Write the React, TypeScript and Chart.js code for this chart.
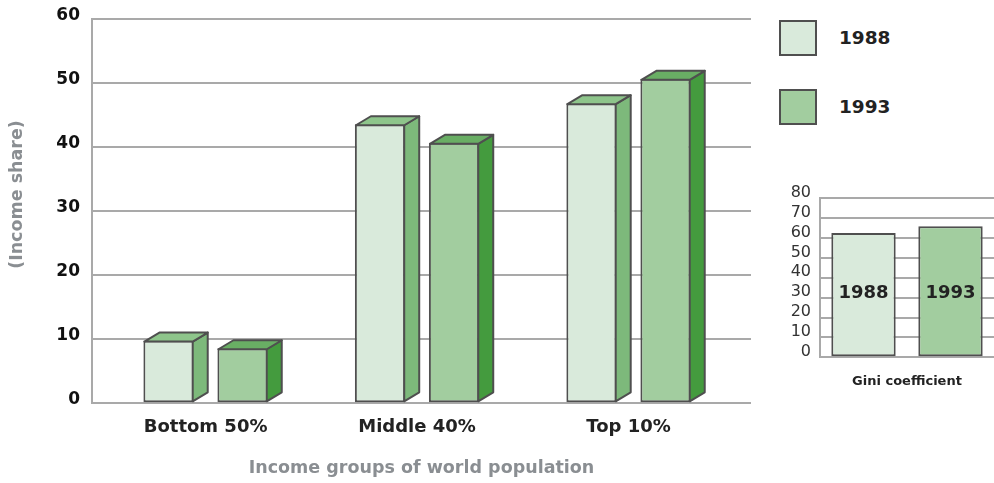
import React, { useEffect, useRef } from "react";
import { Chart, registerables } from "chart.js";

Chart.register(...registerables);

// ---- data ----
const categories = ["Bottom 50%", "Middle 40%", "Top 10%"];
const years = ["1988", "1993"];
const share1988 = [9.8, 43.6, 46.9];
const share1993 = [8.6, 40.7, 50.7];
const shareTicks = [0, 10, 20, 30, 40, 50, 60];
const giniYears = ["1988", "1993"];
const giniValues = [62.5, 66];
const giniTicks = [0, 10, 20, 30, 40, 50, 60, 70, 80];

// ---- style ----
const FONT = "'DejaVu Sans', sans-serif";
const BORDER = "#4f4f4f";
const GRID = "#a9a9a9";
const FRONT = ["#d9eadb", "#a2cd9f"];
const SIDE = ["#7db97b", "#449b3e"];
const TOP = ["#8ec58b", "#69ae64"];
const DX = 15;
const DY = 9;
const GINI_LABEL_AT = 32;

const depthPlugin = {
  id: "depth3d",
  afterDatasetsDraw(chart: any) {
    const ctx = chart.ctx;
    chart.data.datasets.forEach((_ds: any, di: number) => {
      const meta = chart.getDatasetMeta(di);
      meta.data.forEach((bar: any) => {
        const { x, y, base, width } = bar.getProps(["x", "y", "base", "width"], true);
        const l = x - width / 2 + 1;
        const r = x + width / 2 - 1;
        const t = y + 1;
        const b = base - 1;
        ctx.save();
        ctx.lineWidth = 2;
        ctx.lineJoin = "round";
        ctx.strokeStyle = BORDER;
        // side
        ctx.beginPath();
        ctx.moveTo(r, b);
        ctx.lineTo(r + DX, b - DY);
        ctx.lineTo(r + DX, t - DY);
        ctx.lineTo(r, t);
        ctx.closePath();
        ctx.fillStyle = SIDE[di];
        ctx.fill();
        ctx.stroke();
        // top
        ctx.beginPath();
        ctx.moveTo(l, t);
        ctx.lineTo(l + DX, t - DY);
        ctx.lineTo(r + DX, t - DY);
        ctx.lineTo(r, t);
        ctx.closePath();
        ctx.fillStyle = TOP[di];
        ctx.fill();
        ctx.stroke();
        ctx.restore();
      });
    });
  },
};

const yTitlePlugin = {
  id: "yTitle",
  afterDraw(chart: any) {
    const ctx = chart.ctx;
    ctx.save();
    ctx.translate(17, 194.5);
    ctx.rotate(-Math.PI / 2);
    ctx.font = `bold 17.5px ${FONT}`;
    ctx.fillStyle = "#8a8e92";
    ctx.textAlign = "center";
    ctx.textBaseline = "middle";
    ctx.fillText("(Income share)", 0, 0);
    ctx.restore();
  },
};

const giniLabelPlugin = {
  id: "giniLabels",
  afterDatasetsDraw(chart: any) {
    const ctx = chart.ctx;
    const meta = chart.getDatasetMeta(0);
    const yPix = chart.scales.y.getPixelForValue(GINI_LABEL_AT);
    ctx.save();
    ctx.font = `bold 18px ${FONT}`;
    ctx.fillStyle = "#222";
    ctx.textAlign = "center";
    ctx.textBaseline = "middle";
    meta.data.forEach((bar: any, i: number) => {
      ctx.fillText(giniYears[i], bar.x, yPix);
    });
    ctx.restore();
  },
};

function MainChart() {
  const ref = useRef<HTMLCanvasElement>(null);
  useEffect(() => {
    const chart = new Chart(ref.current as HTMLCanvasElement, {
      type: "bar",
      data: {
        datasets: [share1988, share1993].map((vals, di) => ({
          label: years[di],
          data: vals.map((v, i) => ({ x: i, y: v })),
          backgroundColor: FRONT[di],
          borderColor: BORDER,
          borderWidth: 2,
          borderSkipped: false,
          categoryPercentage: 0.7,
          barPercentage: 0.68,
        })),
      },
      options: {
        responsive: false,
        animation: false,
        layout: { padding: { top: 19.3, right: 9, left: 0, bottom: 0 } },
        plugins: { legend: { display: false }, tooltip: { enabled: false } },
        scales: {
          x: {
            type: "linear",
            min: -0.537,
            max: 2.579,
            offset: false,
            grid: { display: false },
            border: { display: false },
            afterBuildTicks: (axis: any) => {
              axis.ticks = categories.map((_c, i) => ({ value: i }));
            },
            afterFit: (s: any) => {
              s.height = 483 - 403.3;
            },
            ticks: {
              callback: (v: any) => categories[v] ?? "",
              font: { family: FONT, size: 18, weight: "bold" },
              color: "#222",
              padding: 5,
              maxRotation: 0,
              autoSkip: false,
            },
            title: {
              display: true,
              text: "Income groups of world population",
              font: { family: FONT, size: 17.5, weight: "bold" },
              color: "#8a8e92",
              padding: { top: 0, bottom: 4 },
            },
          },
          y: {
            min: 0,
            max: 60,
            afterBuildTicks: (axis: any) => {
              axis.ticks = shareTicks.map((v) => ({ value: v }));
            },
            afterFit: (s: any) => {
              s.width = 92;
              s.paddingTop = 0;
              s.paddingBottom = 0;
            },
            grid: { color: GRID, lineWidth: 2, drawTicks: false },
            border: { display: true, color: GRID, width: 2 },
            ticks: {
              font: { family: FONT, size: 17, weight: "bold" },
              color: "#111",
              padding: 12,
              labelOffset: -4,
              autoSkip: false,
            },
          },
        },
      },
      plugins: [depthPlugin, yTitlePlugin],
    } as any);
    return () => chart.destroy();
  }, []);
  return (
    <canvas
      ref={ref}
      width={760}
      height={483}
      style={{ position: "absolute", left: 0, top: 0, width: 760, height: 483 }}
    />
  );
}

function GiniChart() {
  const ref = useRef<HTMLCanvasElement>(null);
  useEffect(() => {
    const chart = new Chart(ref.current as HTMLCanvasElement, {
      type: "bar",
      data: {
        labels: giniYears,
        datasets: [
          {
            label: "Gini coefficient",
            data: giniValues,
            backgroundColor: FRONT,
            borderColor: BORDER,
            borderWidth: 2,
            borderSkipped: false,
            categoryPercentage: 1,
            barPercentage: 0.74,
          },
        ],
      },
      options: {
        responsive: false,
        animation: false,
        layout: { padding: { top: 28.3, right: 0, left: 0, bottom: 0 } },
        plugins: { legend: { display: false }, tooltip: { enabled: false } },
        scales: {
          x: {
            grid: { display: false },
            border: { display: false },
            ticks: { display: false },
            afterFit: (s: any) => {
              s.height = 230 - 187.3;
            },
            title: {
              display: true,
              text: "Gini coefficient",
              font: { family: FONT, size: 13, weight: "bold" },
              color: "#222",
              padding: { top: 0, bottom: 10.5 },
            },
          },
          y: {
            min: 0,
            max: 80,
            afterBuildTicks: (axis: any) => {
              axis.ticks = giniTicks.map((v) => ({ value: v }));
            },
            afterFit: (s: any) => {
              s.width = 60;
              s.paddingTop = 0;
              s.paddingBottom = 0;
            },
            grid: { color: GRID, lineWidth: 2, drawTicks: false },
            border: { display: true, color: GRID, width: 2 },
            ticks: {
              font: { family: FONT, size: 16 },
              color: "#333",
              padding: 9,
              labelOffset: -5.5,
              autoSkip: false,
            },
          },
        },
      },
      plugins: [giniLabelPlugin],
    } as any);
    return () => chart.destroy();
  }, []);
  return (
    <canvas
      ref={ref}
      width={234}
      height={230}
      style={{ position: "absolute", left: 760, top: 170, width: 234, height: 230 }}
    />
  );
}

function LegendItem({ color, text, top }: { color: string; text: string; top: number }) {
  return (
    <>
      <div
        style={{
          position: "absolute",
          left: 779,
          top,
          width: 38,
          height: 36,
          boxSizing: "border-box",
          border: `2px solid ${BORDER}`,
          background: color,
        }}
      />
      <div
        style={{
          position: "absolute",
          left: 839,
          top,
          height: 36,
          lineHeight: "36px",
          fontFamily: FONT,
          fontWeight: "bold",
          fontSize: 18.5,
          color: "#222",
        }}
      >
        {text}
      </div>
    </>
  );
}

export default function App() {
  return (
    <div
      style={{
        position: "fixed",
        left: 0,
        top: 0,
        width: 994,
        height: 483,
        background: "#fff",
        overflow: "hidden",
      }}
    >
      <MainChart />
      <GiniChart />
      <LegendItem color={FRONT[0]} text={years[0]} top={20} />
      <LegendItem color={FRONT[1]} text={years[1]} top={89} />
    </div>
  );
}
